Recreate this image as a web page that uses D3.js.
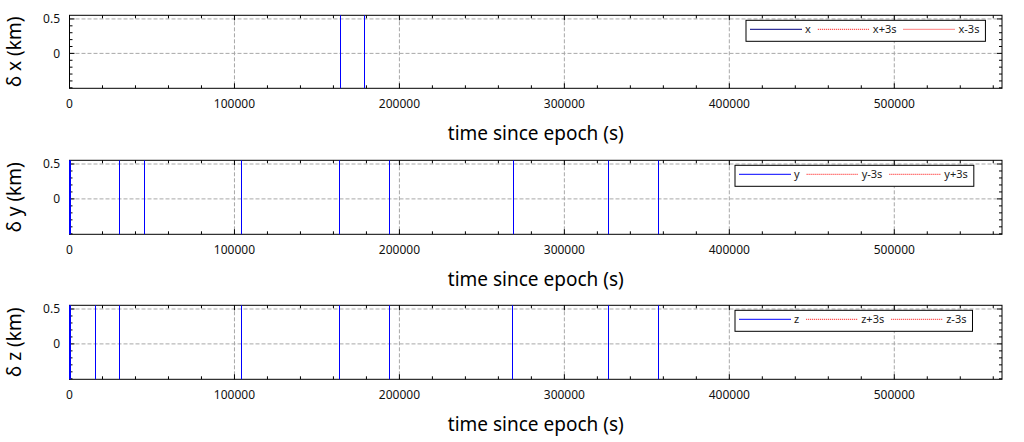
<!DOCTYPE html>
<html>
<head>
<meta charset="utf-8">
<script src="https://cdn.jsdelivr.net/npm/d3@7"></script>
<style>
  html, body { margin: 0; padding: 0; background: #fff; }
  svg { display: block; font-family: "Noto Sans", "Open Sans", sans-serif; }
</style>
</head>
<body>
<svg id="chart" width="1024" height="442"></svg>
<script>
// ---- data ----
const xTickValues = [0, 100000, 200000, 300000, 400000, 500000];
const xTickLabels = ["0", "100000", "200000", "300000", "400000", "500000"];
const yTickValues = [0, 0.5];
const yTickLabels = ["0", "0.5"];
const timeDomain = [0, 565300];
const deltaDomain = [-0.507, 0.553];

// residual series (km); values far outside the window show up as vertical strokes
const xTime  = [0, 164150, 164250, 178750, 178850, 565300];
const xValue = [-900, -900, 900, 900, -900, -900];

const yTime  = [0, 0, 850, 950, 30250, 30350, 45400, 45500, 104190, 104290, 163590, 163690,
                193890, 193990, 268950, 269050, 326950, 327050, 356750, 356850, 565300];
const yValue = [900, -900, -900, 900, 900, -900, -900, 900, 900, -900, -900, 900,
                900, -900, -900, 900, 900, -900, -900, 900, 900];

const zTime  = [0, 0, 850, 950, 15950, 16050, 30250, 30350, 104190, 104290, 163590, 163690,
                193890, 193990, 268450, 268550, 326950, 327050, 356750, 356850, 565300];
const zValue = [900, -900, -900, 900, 900, -900, -900, 900, 900, -900, -900, 900,
                900, -900, -900, 900, 900, -900, -900, 900, 900];

const yAxisTitles = ["δ x (km)", "δ y (km)", "δ z (km)"];
const xAxisTitle = "time since epoch (s)";
const legendLabels = [["x", "x+3s", "x-3s"], ["y", "y-3s", "y+3s"], ["z", "z+3s", "z-3s"]];

// ---- layout ----
const L = 69.5, R = 1002;
const panelTops = [15.3, 160.3, 305.3];
const panelHeights = [73, 74, 74];
const legendX = [746, 735, 735];
const legendMainColor = ["#000080", "#0000ff", "#0000ff"];
const series = [
  xTime.map((t, i) => [t, xValue[i]]),
  yTime.map((t, i) => [t, yValue[i]]),
  zTime.map((t, i) => [t, zValue[i]])
];

const svg = d3.select("#chart");
const x = d3.scaleLinear().domain(timeDomain).range([L, R]);
const minorX = d3.range(0, 565300, 20000);
const minorY = d3.range(-5, 6).map(d => d / 10);

panelTops.forEach((top, p) => {
  const h = panelHeights[p];
  const bottom = top + h;
  const y = d3.scaleLinear().domain(deltaDomain).range([bottom, top]);
  const g = svg.append("g");

  const clipId = "clip" + p;
  svg.append("clipPath").attr("id", clipId)
    .append("rect").attr("x", L - 1).attr("y", top).attr("width", R - L + 1).attr("height", h);

  // grid
  g.append("g").selectAll("line").data(xTickValues.filter(v => v > 0)).join("line")
    .attr("x1", d => x(d)).attr("x2", d => x(d)).attr("y1", top).attr("y2", bottom)
    .attr("stroke", "#a8a8a8").attr("stroke-width", 1).attr("stroke-dasharray", "4,2");
  g.append("g").selectAll("line").data(yTickValues).join("line")
    .attr("x1", L).attr("x2", R).attr("y1", d => y(d)).attr("y2", d => y(d))
    .attr("stroke", "#a8a8a8").attr("stroke-width", 1).attr("stroke-dasharray", "4,2");

  // minor / major ticks (inward, all four sides)
  const tk = g.append("g").attr("stroke", "#000").attr("stroke-width", 1);
  minorX.forEach(v => {
    const len = (v % 100000 === 0) ? 5 : 3;
    tk.append("line").attr("x1", x(v)).attr("x2", x(v)).attr("y1", bottom).attr("y2", bottom - len);
    tk.append("line").attr("x1", x(v)).attr("x2", x(v)).attr("y1", top).attr("y2", top + len);
  });
  minorY.forEach(v => {
    const len = (Math.abs(v) < 1e-9 || Math.abs(v - 0.5) < 1e-9) ? 5 : 3;
    tk.append("line").attr("x1", L).attr("x2", L + len).attr("y1", y(v)).attr("y2", y(v));
    tk.append("line").attr("x1", R).attr("x2", R - len).attr("y1", y(v)).attr("y2", y(v));
  });

  // frame
  g.append("rect").attr("x", L).attr("y", top).attr("width", R - L).attr("height", h)
    .attr("fill", "none").attr("stroke", "#000").attr("stroke-width", 1);

  // data line (drawn over the frame, as in the reference)
  const line = d3.line().x(d => x(d[0])).y(d => y(d[1]));
  g.append("path").datum(series[p]).attr("clip-path", `url(#${clipId})`)
    .attr("d", line).attr("fill", "none").attr("stroke", "#0000ff").attr("stroke-width", 1)
    .attr("shape-rendering", "crispEdges");

  // tick labels
  g.append("g").selectAll("text").data(xTickValues).join("text")
    .attr("x", d => x(d)).attr("y", bottom + 20)
    .attr("text-anchor", "middle").attr("font-size", 12).attr("fill", "#111")
    .text((d, i) => xTickLabels[i]);
  g.append("g").selectAll("text").data(yTickValues).join("text")
    .attr("x", L - 9.5).attr("y", d => y(d)).attr("dy", "0.35em")
    .attr("text-anchor", "end").attr("font-size", 12).attr("fill", "#111")
    .text((d, i) => yTickLabels[i]);

  // axis titles
  g.append("text")
    .attr("transform", `translate(21,${(top + bottom) / 2}) rotate(-90)`)
    .attr("text-anchor", "middle").attr("font-size", 19).attr("fill", "#000")
    .text(yAxisTitles[p]);
  g.append("text")
    .attr("x", (L + R) / 2).attr("y", bottom + 52)
    .attr("text-anchor", "middle").attr("font-size", 19).attr("fill", "#000")
    .text(xAxisTitle);

  // legend
  const lx = legendX[p], ly = top + 5;
  const lg = g.append("g");
  const box = lg.append("rect").attr("x", lx).attr("y", ly).attr("height", 21)
    .attr("fill", "#fff").attr("stroke", "#000").attr("stroke-width", 1);
  let cx = lx + 4;
  legendLabels[p].forEach((lab, i) => {
    const lyLine = ly + 9;
    lg.append("line").attr("x1", cx).attr("x2", cx + 52).attr("y1", lyLine).attr("y2", lyLine)
      .attr("stroke", i === 0 ? legendMainColor[p] : "#ff0000")
      .attr("stroke-width", 1)
      .attr("stroke-dasharray", i === 0 ? null : "1,1");
    const t = lg.append("text").attr("x", cx + 55).attr("y", lyLine + 4)
      .attr("font-size", 11).attr("fill", "#222").text(lab);
    const w = t.node().getComputedTextLength();
    cx = cx + 55 + w + (i < 2 ? 7 : 6);
  });
  box.attr("width", cx - lx);
});
</script>
</body>
</html>
